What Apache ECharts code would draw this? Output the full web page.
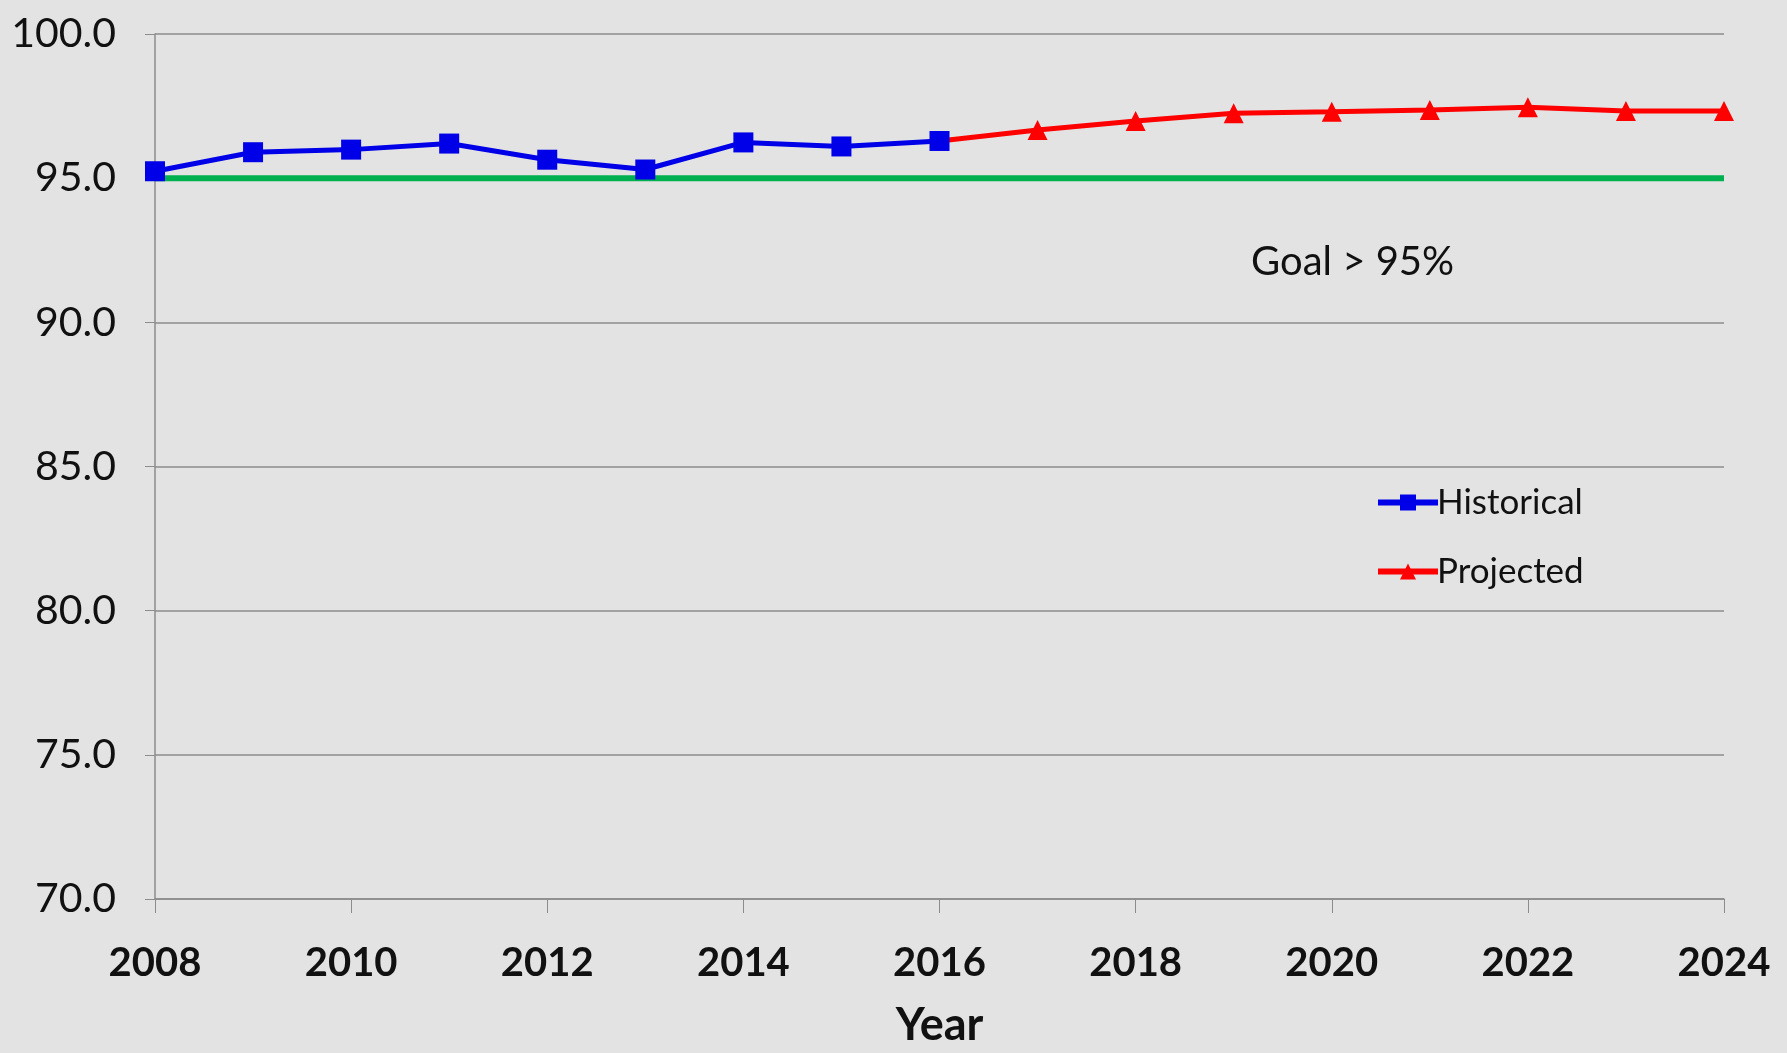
<!DOCTYPE html>
<html>
<head>
<meta charset="utf-8">
<script src="https://cdn.jsdelivr.net/npm/echarts@6/dist/echarts.min.js"></script>
<style>
  html, body { margin: 0; padding: 0; background: #e3e3e3; }
  #chart { width: 1787px; height: 1053px; }
</style>
</head>
<body>
<div id="chart"></div>
<script>
// values
var histYears = [2008, 2009, 2010, 2011, 2012, 2013, 2014, 2015, 2016];
var histValues = [95.24, 95.90, 95.99, 96.20, 95.64, 95.30, 96.24, 96.10, 96.29];
var projYears = [2016, 2017, 2018, 2019, 2020, 2021, 2022, 2023, 2024];
var projValues = [96.29, 96.67, 96.98, 97.25, 97.30, 97.36, 97.46, 97.33, 97.33];
var goalYears = [2008, 2024];
var goalValues = [95, 95];

var chart = echarts.init(document.getElementById('chart'));

function pairs(xs, ys) {
	return xs.map(function (x, i) { return [x, ys[i]]; });
}

var projData = pairs(projYears, projValues).map(function (p, i) {
	// first point joins the historical line, no marker there
	return i === 0 ? { value: p, symbol: 'none' } : { value: p };
});

var font = 'Lato, "Open Sans", sans-serif';

var option = {
	backgroundColor: '#e3e3e3',
	animation: false,
	grid: { left: 155, right: 63, top: 34, bottom: 149 },
	xAxis: {
		type: 'value',
		min: 2008,
		max: 2024,
		interval: 2,
		name: 'Year',
		nameLocation: 'middle',
		nameGap: 104,
		nameTextStyle: { fontFamily: font, fontWeight: 'bold', fontSize: 45, color: '#111' },
		axisLine: { lineStyle: { color: '#8c8c8c', width: 1.5 } },
		axisTick: { show: true, length: 14, lineStyle: { color: '#8c8c8c' } },
		axisLabel: {
			margin: 44,
			fontFamily: font, fontWeight: 'bold', fontSize: 40, color: '#111',
			formatter: function (v) { return String(v); }
		},
		splitLine: { show: false }
	},
	yAxis: {
		type: 'value',
		min: 70,
		max: 100,
		interval: 5,
		axisLine: { show: true, lineStyle: { color: '#8c8c8c', width: 1.5 } },
		axisTick: { show: true, length: 10, lineStyle: { color: '#8c8c8c' } },
		axisLabel: {
			margin: 39,
			fontFamily: font, fontSize: 41, color: '#111',
			formatter: function (v) { return v.toFixed(1); }
		},
		splitLine: { lineStyle: { color: '#8c8c8c', width: 1.5 } }
	},
	legend: {
		data: ['Historical', 'Projected'],
		orient: 'vertical',
		left: 1370,
		top: 480,
		itemGap: 34,
		itemWidth: 60,
		itemHeight: 20,
		lineStyle: { width: 6 },
		textStyle: { fontFamily: font, fontSize: 35, color: '#111', padding: [0, 0, 0, -6] }
	},
	graphic: [{
		type: 'text',
		left: 1251,
		top: 242,
		style: { text: 'Goal > 95%', fontFamily: font, fontSize: 40, fill: '#111' }
	}],
	series: [{
		name: 'Goal',
		type: 'line',
		data: pairs(goalYears, goalValues),
		symbol: 'none',
		lineStyle: { color: '#00b050', width: 6 },
		z: 1
	}, {
		name: 'Projected',
		type: 'line',
		data: projData,
		symbol: 'triangle',
		symbolSize: 20,
		itemStyle: { color: '#ff0000' },
		lineStyle: { color: '#ff0000', width: 5 },
		z: 2
	}, {
		name: 'Historical',
		type: 'line',
		data: pairs(histYears, histValues),
		symbol: 'rect',
		symbolSize: 20,
		itemStyle: { color: '#0000e8' },
		lineStyle: { color: '#0000e8', width: 5 },
		z: 3
	}]
};

chart.setOption(option);
</script>
</body>
</html>
